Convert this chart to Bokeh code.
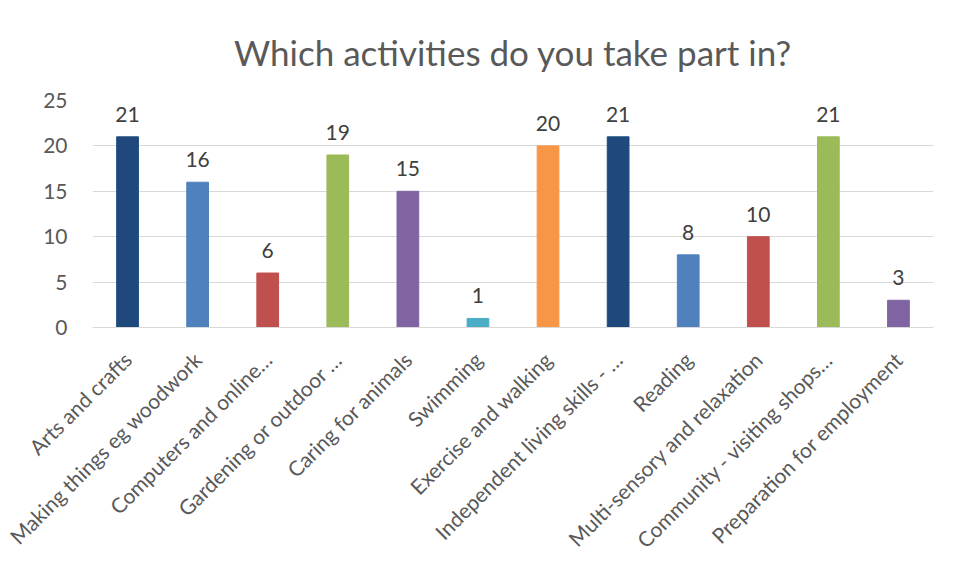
from math import pi
from bokeh.plotting import figure
from bokeh.models import ColumnDataSource, FixedTicker, Range1d, LabelSet
from bokeh.core.properties import value
from bokeh.embed import file_html
from bokeh.resources import INLINE

categories = [
    "Arts and crafts",
    "Making things eg woodwork",
    "Computers and online…",
    "Gardening or outdoor …",
    "Caring for animals",
    "Swimming",
    "Exercise and walking",
    "Independent living skills - …",
    "Reading",
    "Multi-sensory and relaxation",
    "Community - visiting shops…",
    "Preparation for employment",
]
counts = [21, 16, 6, 19, 15, 1, 20, 21, 8, 10, 21, 3]
bar_colors = ["#1F497D", "#4F81BD", "#C0504D", "#9BBB59", "#8064A2", "#4BACC6",
              "#F79646", "#1F497D", "#4F81BD", "#C0504D", "#9BBB59", "#8064A2"]
y_ticks = [0, 5, 10, 15, 20, 25]
title_text = "Which activities do you take part in?"

FONT = "Lato"

src = ColumnDataSource(dict(cat=categories, val=counts, col=bar_colors,
                            lab=[str(v) for v in counts]))

p = figure(x_range=categories, y_range=Range1d(0, 25),
           frame_width=841, frame_height=227,
           min_border_left=92, min_border_right=22, min_border_top=100, min_border_bottom=243,
           output_backend="svg", toolbar_location=None, title=title_text)

p.vbar(x="cat", top="val", width=0.31, color="col", source=src)

labels = LabelSet(x="cat", y="val", text="lab", source=src, text_align="center",
                  text_baseline="bottom", y_offset=15, text_font=value(FONT),
                  text_font_size="21px", text_color="#404040")
p.add_layout(labels)

p.title.text_font = FONT
p.title.text_font_size = "35px"
p.title.text_font_style = "normal"
p.title.text_color = "#595959"
p.title.align = "center"
p.title.standoff = 56

p.outline_line_color = None
p.background_fill_color = "white"
p.border_fill_color = "white"

p.xgrid.grid_line_color = None
p.ygrid.grid_line_color = "#D9D9D9"
p.ygrid.grid_line_width = 1

p.yaxis.ticker = FixedTicker(ticks=y_ticks)
p.yaxis.axis_line_color = None
p.yaxis.major_tick_line_color = None
p.yaxis.minor_tick_line_color = None
p.yaxis.major_label_text_font = FONT
p.yaxis.major_label_text_font_size = "21px"
p.yaxis.major_label_text_color = "#595959"
p.yaxis.major_label_standoff = 19

p.xaxis.axis_line_color = "#D9D9D9"
p.xaxis.major_tick_line_color = None
p.xaxis.minor_tick_line_color = None
p.xaxis.major_label_orientation = pi / 4
p.xaxis.major_label_text_font = FONT
p.xaxis.major_label_text_font_size = "21px"
p.xaxis.major_label_text_color = "#595959"
p.xaxis.major_label_standoff = 22
p.x_range.range_padding = 0

open("out.html", "w").write(file_html(p, INLINE))
